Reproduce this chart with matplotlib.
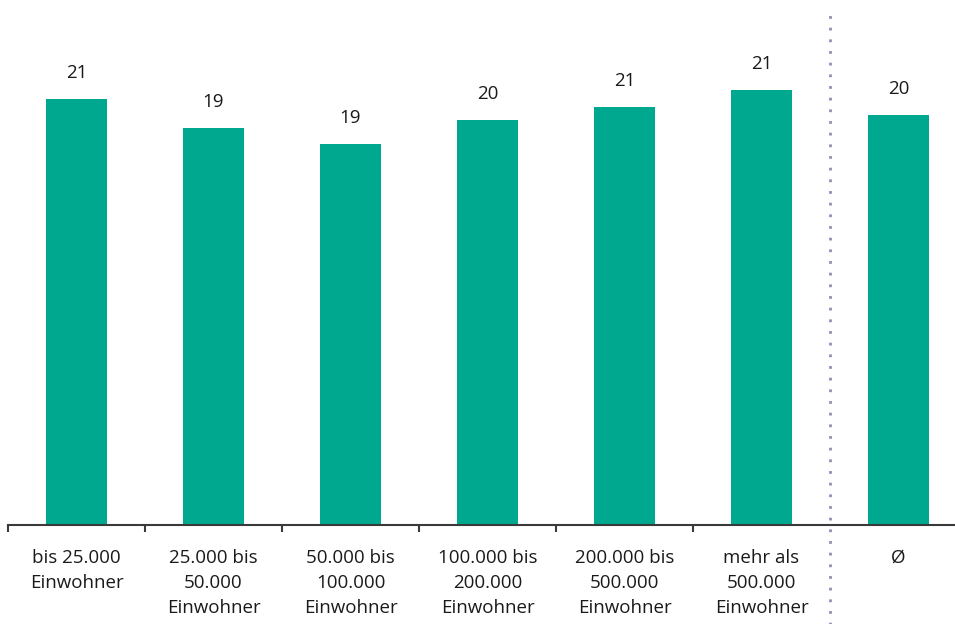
import matplotlib
matplotlib.use('Agg')
import matplotlib.pyplot as plt

plt.rcParams['font.family'] = ['Open Sans', 'DejaVu Sans']

# Kategorien, Balkenhoehen (aus dem Bild geschaetzt) und angezeigte Werte
categories = ['bis 25.000\nEinwohner', '25.000 bis\n50.000\nEinwohner',
              '50.000 bis\n100.000\nEinwohner', '100.000 bis\n200.000\nEinwohner',
              '200.000 bis\n500.000\nEinwohner', 'mehr als\n500.000\nEinwohner', 'Ø']
values = [20.99, 19.56, 18.77, 19.95, 20.59, 21.43, 20.20]
labels = ['21', '19', '19', '20', '21', '21', '20']

bar_color = '#00a88f'
text_color = '#1a1a1a'

fig = plt.figure(figsize=(9.55, 6.24), dpi=100)
ax = fig.add_axes([8/955, 99/624, 947/955, 525/624])

x = list(range(len(categories)))
bars = ax.bar(x, values, width=0.44, color=bar_color, zorder=2)

for b, lab in zip(bars, labels):
    ax.annotate(lab, (b.get_x() + b.get_width()/2, b.get_height()),
                xytext=(0, 12), textcoords='offset points',
                ha='center', va='bottom', fontsize=13.5, color=text_color)

ax.set_xlim(-0.5, -0.5 + 947/137)
ax.set_ylim(0, 525/20.3)

# Achse
for s in ['top', 'right', 'left']:
    ax.spines[s].set_visible(False)
ax.spines['bottom'].set_color('#3a3a3a')
ax.spines['bottom'].set_linewidth(1.5)
ax.set_yticks([])
ax.set_xticks([i - 0.5 for i in range(6)])
ax.set_xticklabels([])
ax.tick_params(axis='x', direction='out', length=5, width=1.5, color='#3a3a3a')

# Kategorienbeschriftungen
trans = ax.get_xaxis_transform()
for i, c in enumerate(categories):
    ax.text(i, -0.045, c, transform=trans, ha='center', va='top',
            fontsize=13.5, color=text_color, linespacing=1.5)

# gepunktete Trennlinie vor dem Durchschnitt
ax.plot([5.5, 5.5], [-0.19, 0.972], transform=trans, clip_on=False,
        color='#8c91b4', linestyle=(0, (1, 3.2)), linewidth=2, zorder=3)

fig.savefig('out.png', dpi=100)
